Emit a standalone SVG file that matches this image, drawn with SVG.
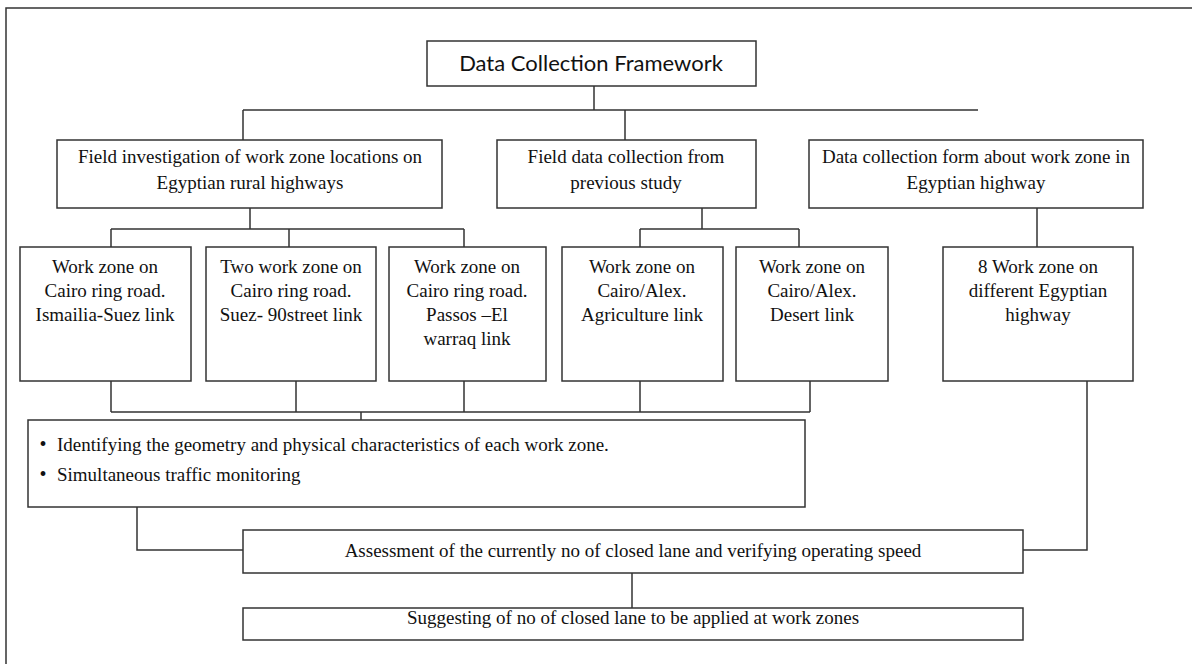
<svg xmlns="http://www.w3.org/2000/svg" width="1192" height="664" viewBox="0 0 1192 664">
<style>
.box{fill:#fff;stroke:#333;stroke-width:1.5}
.ln{fill:none;stroke:#333;stroke-width:1.5}
text{font-family:"Liberation Serif","Times New Roman",serif;font-size:19px;fill:#111;text-anchor:middle}
.t{font-family:Lato,"Noto Sans",sans-serif;font-size:22px}
.l{text-anchor:start}
.b{text-anchor:middle;font-size:20px}
</style>
<rect width="1192" height="664" fill="#fff"/>
<path class="ln" d="M6,664 V8 H1192"/>
<g id="connectors">
<path class="ln" d="M594,86 V110 M243,110 H978 M243,110 V140 M625,110 V140"/>
<path class="ln" d="M250,208 V229 M111,229 H464 M111,229 V247 M289,229 V247 M464,229 V247"/>
<path class="ln" d="M702,208 V229 M640,229 H799 M640,229 V247 M799,229 V247"/>
<path class="ln" d="M1037,208 V247"/>
<path class="ln" d="M111,381 V412 M296,381 V412 M464,381 V412 M640,381 V412 M810,381 V412 M111,412 H810 M361,412 V420"/>
<path class="ln" d="M137,507 V550 H243"/>
<path class="ln" d="M1087,381 V550 H1023"/>
<path class="ln" d="M632,573 V608"/>
</g>
<g id="title"><rect class="box" x="427" y="41" width="329" height="45"/><text class="t" x="591" y="71">Data Collection Framework</text></g>
<g id="field-investigation"><rect class="box" x="57" y="140" width="385" height="68"/><text x="250" y="163">Field investigation of work zone locations on</text><text x="250" y="189">Egyptian rural highways</text></g>
<g id="field-data"><rect class="box" x="497" y="140" width="259" height="68"/><text x="626" y="163">Field data collection from</text><text x="626" y="189">previous study</text></g>
<g id="data-form"><rect class="box" x="809" y="140" width="334" height="68"/><text x="976" y="163">Data collection form about work zone in</text><text x="976" y="189">Egyptian highway</text></g>
<g id="leaf1"><rect class="box" x="20" y="247" width="171" height="134"/><text x="105" y="273">Work zone on</text><text x="105" y="297">Cairo ring road.</text><text x="105" y="321">Ismailia-Suez link</text></g>
<g id="leaf2"><rect class="box" x="206" y="247" width="170" height="134"/><text x="291" y="273">Two work zone on</text><text x="291" y="297">Cairo ring road.</text><text x="291" y="321">Suez- 90street link</text></g>
<g id="leaf3"><rect class="box" x="389" y="247" width="157" height="134"/><text x="467" y="273">Work zone on</text><text x="467" y="297">Cairo ring road.</text><text x="467" y="321">Passos –El</text><text x="467" y="345">warraq link</text></g>
<g id="leaf4"><rect class="box" x="562" y="247" width="161" height="134"/><text x="642" y="273">Work zone on</text><text x="642" y="297">Cairo/Alex.</text><text x="642" y="321">Agriculture link</text></g>
<g id="leaf5"><rect class="box" x="736" y="247" width="152" height="134"/><text x="812" y="273">Work zone on</text><text x="812" y="297">Cairo/Alex.</text><text x="812" y="321">Desert link</text></g>
<g id="leaf6"><rect class="box" x="943" y="247" width="190" height="134"/><text x="1038" y="273">8 Work zone on</text><text x="1038" y="297">different Egyptian</text><text x="1038" y="321">highway</text></g>
<g id="bullets"><rect class="box" x="28" y="420" width="777" height="87"/><text class="b" x="43" y="451">•</text><text class="l" x="57" y="451">Identifying the geometry and physical characteristics of each work zone.</text><text class="b" x="43" y="481">•</text><text class="l" x="57" y="481">Simultaneous traffic monitoring</text></g>
<g id="assessment"><rect class="box" x="243" y="530" width="780" height="43"/><text x="633" y="557">Assessment of the currently no of closed lane and verifying operating speed</text></g>
<g id="suggesting"><rect class="box" x="243" y="608" width="780" height="32"/><text x="633" y="624">Suggesting of no of closed lane to be applied at work zones</text></g>
</svg>
